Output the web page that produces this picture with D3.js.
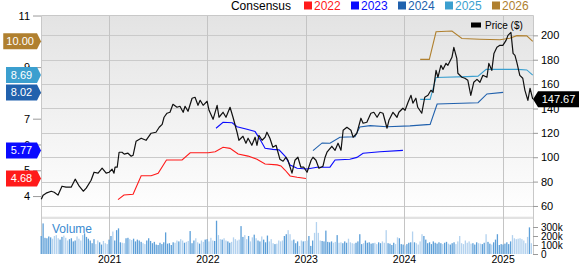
<!DOCTYPE html>
<html>
<head>
<meta charset="utf-8">
<script src="https://cdnjs.cloudflare.com/ajax/libs/d3/7.8.5/d3.min.js"></script>
<style>
	body { margin: 0; background: #fff; }
	svg { display: block; font-family: "Liberation Sans", Arial, sans-serif; }
</style>
</head>
<body>
<svg class="theSvg" width="579" height="264"></svg>
<script>
// ---- data ----
var price = [["2020-04-24",65.6],["2020-05-01",68.9],["2020-05-12",70.5],["2020-05-31",72.1],["2020-06-11",71.3],["2020-06-25",68.9],["2020-07-10",76.2],["2020-07-25",75.4],["2020-08-13",75.4],["2020-08-28",82.0],["2020-09-12",76.2],["2020-09-27",72.1],["2020-10-08",74.6],["2020-10-26",81.1],["2020-11-06",87.7],["2020-11-21",86.9],["2020-12-06",91.0],["2020-12-21",86.9],["2021-01-01",87.7],["2021-01-12",90.2],["2021-01-19",86.9],["2021-01-23",91.8],["2021-01-31",91.8],["2021-02-07",104.1],["2021-02-18",104.1],["2021-02-26",102.5],["2021-03-12",103.3],["2021-03-24",100.8],["2021-03-31",101.6],["2021-04-11",113.1],["2021-04-30",115.6],["2021-05-18",113.9],["2021-06-06",119.7],["2021-06-24",120.5],["2021-07-06",124.6],["2021-07-17",127.0],["2021-07-24",132.8],["2021-08-04",136.1],["2021-08-15",136.9],["2021-08-26",143.4],["2021-09-10",141.0],["2021-09-21",141.8],["2021-10-03",136.9],["2021-10-10",141.8],["2021-10-21",137.7],["2021-11-05",148.4],["2021-11-16",149.2],["2021-11-27",142.6],["2021-12-05",146.7],["2021-12-16",142.6],["2021-12-31",145.9],["2022-01-07",138.5],["2022-01-22",131.1],["2022-02-06",142.6],["2022-02-13",132.8],["2022-02-28",136.9],["2022-03-11",132.8],["2022-03-26",141.0],["2022-04-06",132.8],["2022-04-21",120.5],["2022-04-28",113.9],["2022-05-13",117.2],["2022-05-24",111.5],["2022-06-01",115.6],["2022-06-15",109.8],["2022-06-27",116.4],["2022-07-04",109.8],["2022-07-11",118.0],["2022-07-23",113.9],["2022-08-03",116.4],["2022-08-10",120.5],["2022-08-21",115.6],["2022-09-01",108.2],["2022-09-13",109.8],["2022-09-20",104.1],["2022-09-27",98.4],["2022-10-09",96.7],["2022-10-20",100.0],["2022-10-27",97.5],["2022-11-11",86.9],["2022-11-22",97.5],["2022-12-03",100.0],["2022-12-14",91.8],["2022-12-25",91.8],["2023-01-06",87.7],["2023-01-21",97.5],["2023-01-28",100.0],["2023-02-08",97.5],["2023-02-19",91.0],["2023-03-06",92.6],["2023-03-14",100.0],["2023-03-21",104.1],["2023-04-08",109.0],["2023-04-20",105.7],["2023-05-01",111.5],["2023-05-12",105.7],["2023-05-20",122.1],["2023-06-03",124.6],["2023-06-18",122.1],["2023-06-26",116.4],["2023-07-10",119.7],["2023-07-25",132.0],["2023-08-02",127.9],["2023-08-16",128.7],["2023-08-31",136.1],["2023-09-11",136.9],["2023-09-23",132.8],["2023-10-04",136.9],["2023-10-15",136.1],["2023-10-30",123.8],["2023-11-06",130.3],["2023-11-21",136.9],["2023-12-06",132.8],["2023-12-13",136.9],["2023-12-28",140.2],["2024-01-05",138.5],["2024-01-16",145.1],["2024-01-27",150.8],["2024-02-03",144.3],["2024-02-14",148.4],["2024-02-21",141.0],["2024-03-07",136.1],["2024-03-18",149.2],["2024-03-30",150.8],["2024-04-10",154.9],["2024-04-18",153.3],["2024-04-29",171.3],["2024-05-06",165.6],["2024-05-17",175.4],["2024-05-25",172.1],["2024-06-05",177.0],["2024-06-12",175.4],["2024-06-27",182.0],["2024-07-04",190.2],["2024-07-15",181.1],["2024-07-19",168.9],["2024-08-03",165.6],["2024-08-14",164.8],["2024-08-25",163.1],["2024-09-05",150.8],["2024-09-16",161.5],["2024-09-28",163.9],["2024-10-09",161.5],["2024-10-20",167.2],["2024-11-04",165.6],["2024-11-11",177.0],["2024-11-22",171.3],["2024-11-30",185.2],["2024-12-11",190.2],["2024-12-22",191.8],["2025-01-02",191.8],["2025-01-14",195.9],["2025-01-21",200.0],["2025-02-01",202.5],["2025-02-09",185.2],["2025-02-16",183.6],["2025-02-23",177.9],["2025-03-06",167.2],["2025-03-17",164.8],["2025-03-25",154.9],["2025-04-05",146.7],["2025-04-13",156.6],["2025-04-23",147.67]];

var cons2022 = [["2021-02-03",3.86],["2021-02-25",4.04],["2021-03-31",4.07],["2021-04-30",4.79],["2021-06-06",4.79],["2021-07-02",4.88],["2021-08-02",5.40],["2021-09-29",5.40],["2021-10-29",5.68],["2022-01-04",5.68],["2022-01-30",5.72],["2022-02-28",5.89],["2022-03-26",5.85],["2022-04-25",5.63],["2022-06-01",5.55],["2022-07-04",5.43],["2022-08-03",5.24],["2022-09-17",5.21],["2022-10-01",5.17],["2022-10-16",5.01],["2022-11-04",4.78],["2022-11-30",4.73],["2023-01-02",4.68]];
var cons2023 = [["2022-02-02",6.63],["2022-02-28",6.86],["2022-04-03",6.84],["2022-04-21",6.69],["2022-05-28",6.59],["2022-06-27",6.50],["2022-07-15",6.20],["2022-08-03",5.85],["2022-09-01",5.81],["2022-09-24",5.79],["2022-10-16",5.55],["2022-11-04",5.20],["2022-11-30",5.08],["2023-01-06",5.05],["2023-02-12",5.12],["2023-04-01",5.12],["2023-04-20",5.40],["2023-06-14",5.43],["2023-07-10",5.50],["2023-08-02",5.66],["2023-10-04",5.72],["2023-12-28",5.77]];
var cons2024 = [["2023-01-28",5.76],["2023-03-03",6.06],["2023-04-01",6.05],["2023-05-08",6.28],["2023-07-03",6.30],["2023-07-21",6.68],["2023-08-28",6.73],["2023-10-30",6.69],["2024-01-23",6.72],["2024-04-07",6.78],["2024-05-03",7.57],["2024-10-02",7.62],["2024-11-04",7.96],["2025-01-03",8.02]];
var cons2025 = [["2024-03-01",7.75],["2024-04-07",7.75],["2024-04-29",8.60],["2024-08-22",8.63],["2024-10-02",8.65],["2024-11-01",8.91],["2025-02-27",8.91],["2025-04-01",8.89],["2025-04-23",8.69]];
var cons2026 = [["2024-03-01",9.30],["2024-04-04",9.30],["2024-04-29",10.37],["2024-06-27",10.40],["2024-08-03",10.11],["2024-10-09",10.08],["2024-12-22",10.06],["2025-01-28",10.12],["2025-02-23",10.22],["2025-04-01",10.21],["2025-04-23",10.00]];

var consYears = ["2022", "2023", "2024", "2025", "2026"];
var consColors = ["#ff1a1a", "#0a0aff", "#2161ad", "#3b9fcf", "#b0802f"];

// weekly volume in thousands, first week ending 2020-04-24
var volumeStart = "2020-04-24";
var volume = [200,340,180,175,195,185,170,200,210,175,160,190,205,180,150,165,175,140,150,195,170,150,210,230,190,170,150,120,165,110,150,130,105,145,120,110,
	160,200,250,150,265,285,130,125,120,175,180,165,155,170,140,160,150,135,120,110,150,175,145,120,135,105,100,125,110,130,240,115,120,100,130,125,150,140,165,150,125,135,145,255,120,150,175,130,115,150,135,160,
	165,140,180,150,145,370,210,165,160,175,150,140,125,135,185,165,150,160,310,190,210,165,200,140,185,215,175,150,140,195,160,130,205,140,165,120,110,115,150,140,150,200,220,265,220,150,160,120,140,90,150,140,
	145,150,200,90,150,235,355,235,150,145,140,260,135,130,140,125,135,210,125,130,120,140,125,170,130,120,115,125,140,220,110,120,150,125,130,115,120,125,110,130,120,140,125,265,120,115,100,125,110,185,175,110,
	105,95,110,125,130,250,130,120,105,140,220,200,160,120,130,110,140,125,115,130,120,110,125,135,115,105,120,130,110,140,200,120,110,150,125,140,115,120,105,130,120,115,110,125,220,135,115,105,130,160,220,100,110,
	105,115,130,110,140,210,175,165,170,175,165,150,120,190,296,120];

var epsTicks = [4, 5, 6, 7, 8, 9, 10, 11];
var priceTicks = [60, 80, 100, 120, 140, 160, 180, 200];
var volTicks = [0, 100, 200, 300];

// ---- layout ----
var parseDate = d3.timeParse("%Y-%m-%d");
var L = 41, R = 533, T = 15, B = 216.7, VT = 219, VB = 254;

var svg = d3.select(".theSvg");

var x = d3.scaleTime().domain([parseDate("2020-04-23"), parseDate("2025-04-24")]).range([L, R]);
var yPrice = d3.scaleLinear().domain([51.2, 216.7]).range([B, T]);
var yEps = d3.scaleLinear().domain([3.2, 11.02]).range([B, T]);
var yVol = d3.scaleLinear().domain([0, 389]).range([VB, VT]);

var grad = svg.append("defs").append("linearGradient")
	.attr("id", "bgGrad")
	.attr("x1", 0).attr("y1", 0).attr("x2", 0).attr("y2", 1);
grad.append("stop").attr("offset", "0%").attr("stop-color", "#e3e3e3");
grad.append("stop").attr("offset", "100%").attr("stop-color", "#ffffff");

svg.append("rect")
	.attr("x", L).attr("y", T)
	.attr("width", R - L).attr("height", B - T)
	.attr("fill", "url(#bgGrad)");

// band between price and volume panes
svg.append("rect")
	.attr("x", L).attr("y", B)
	.attr("width", R - L).attr("height", VT - B)
	.attr("fill", "#e2e2e2");

var years = x.ticks(d3.timeYear.every(1));

// gridlines
svg.append("g").selectAll("line")
	.data(priceTicks)
	.enter().append("line")
	.attr("x1", L).attr("x2", R)
	.attr("y1", function(d){ return Math.round(yPrice(d)) + 0.5; })
	.attr("y2", function(d){ return Math.round(yPrice(d)) + 0.5; })
	.attr("stroke", "#cacaca");

svg.append("g").selectAll("line")
	.data(years)
	.enter().append("line")
	.attr("x1", function(d){ return Math.round(x(d)) + 0.5; })
	.attr("x2", function(d){ return Math.round(x(d)) + 0.5; })
	.attr("y1", T).attr("y2", VB)
	.attr("stroke", "#c4c4c4");

// frame
svg.append("path")
	.attr("d", "M" + (L + 0.5) + "," + VB + "V" + (T + 0.5) + "H" + (R + 0.5) + "V" + VB)
	.attr("fill", "none")
	.attr("stroke", "#c8c8c8");

// ---- volume ----
var priceSeries = price.map(function(d){ return {date: parseDate(d[0]), value: d[1]}; });
var bisect = d3.bisector(function(d){ return d.date; }).left;
function priceAt(date){
	var i = bisect(priceSeries, date);
	if (i <= 0) return priceSeries[0].value;
	if (i >= priceSeries.length) return priceSeries[priceSeries.length - 1].value;
	var a = priceSeries[i - 1], b = priceSeries[i];
	var t = (date - a.date) / (b.date - a.date);
	return a.value + t * (b.value - a.value);
}

var volStart = parseDate(volumeStart);
var volData = volume.map(function(v, i){
	var date = d3.timeWeek.offset(volStart, i);
	var up = priceAt(date) >= priceAt(d3.timeWeek.offset(date, -1));
	return {date: date, value: v, up: up};
});

svg.append("g").selectAll("rect")
	.data(volData)
	.enter().append("rect")
	.attr("x", function(d){ return x(d.date) - 0.7; })
	.attr("width", 1.3)
	.attr("y", function(d){ return yVol(d.value); })
	.attr("height", function(d){ return yVol(0) - yVol(d.value); })
	.attr("fill", function(d){ return d.up ? "#5d9fd8" : "#b3d2ef"; });

svg.append("text")
	.attr("x", 52).attr("y", 233)
	.attr("font-size", "12px")
	.attr("fill", "#3a8ad0")
	.text("Volume");

// ---- consensus lines ----
var epsLine = d3.line()
	.x(function(d){ return x(parseDate(d[0])); })
	.y(function(d){ return yEps(d[1]); });

var consData = [cons2022, cons2023, cons2024, cons2025, cons2026];

svg.append("g").selectAll("path")
	.data(consData)
	.enter().append("path")
	.attr("d", epsLine)
	.attr("fill", "none")
	.attr("stroke-width", 1.1)
	.attr("stroke", function(d, i){ return consColors[i]; });

// ---- price line ----
var priceLine = d3.line()
	.x(function(d){ return x(d.date); })
	.y(function(d){ return yPrice(d.value); });

svg.append("path")
	.datum(priceSeries)
	.attr("d", priceLine)
	.attr("fill", "none")
	.attr("stroke", "#111")
	.attr("stroke-width", 1.2)
	.attr("stroke-linejoin", "round");

// ---- axes ----
function styleAxis(g, size){
	g.select(".domain").remove();
	g.selectAll(".tick line").attr("stroke", "#9a9a9a");
	g.selectAll(".tick text").attr("fill", "#000").attr("font-size", size).attr("font-family", null);
}

svg.append("g")
	.attr("transform", "translate(" + L + ",0)")
	.call(d3.axisLeft(yEps).tickValues(epsTicks).tickSize(8).tickPadding(3))
	.call(styleAxis, "11px");

svg.append("g")
	.attr("transform", "translate(" + R + ",0)")
	.call(d3.axisRight(yPrice).tickValues(priceTicks).tickSize(5).tickPadding(3))
	.call(styleAxis, "11px");

svg.append("g")
	.attr("transform", "translate(" + R + ",0)")
	.call(d3.axisRight(yVol).tickValues(volTicks).tickSize(5).tickPadding(3)
		.tickFormat(function(d){ return d == 0 ? "0" : d + "k"; }))
	.call(styleAxis, "10px");

svg.append("g")
	.attr("transform", "translate(0," + VB + ")")
	.call(d3.axisBottom(x).tickValues(years).tickSize(0).tickPadding(2).tickFormat(d3.timeFormat("%Y")))
	.call(styleAxis, "10.5px");

// ---- badges ----
var leftBadges = svg.append("g");
consData.forEach(function(series, i){
	var last = series[series.length - 1][1];
	var cy = yEps(last);
	var g = leftBadges.append("g");
	var poly = g.append("path").attr("fill", consColors[i]);
	var t = g.append("text")
		.attr("x", 21.5).attr("y", cy)
		.attr("dy", "0.36em")
		.attr("text-anchor", "middle")
		.attr("font-size", "11px")
		.attr("fill", "#fff")
		.text(last.toFixed(2));
	var w = t.node().getComputedTextLength();
	var x0 = Math.min(6, 21.5 - w / 2 - 4.5);
	t.attr("x", (x0 + 37) / 2);
	poly.attr("d", "M" + x0 + "," + (cy - 8) + "H37L41," + cy + "L37," + (cy + 8) + "H" + x0 + "Z");
});

var lastPrice = priceSeries[priceSeries.length - 1].value;
var py = yPrice(lastPrice);
svg.append("path")
	.attr("d", "M" + R + "," + py + "L538," + (py - 8) + "H579V" + (py + 8) + "H538Z")
	.attr("fill", "#000");
svg.append("text")
	.attr("x", 558.5).attr("y", py)
	.attr("dy", "0.36em")
	.attr("text-anchor", "middle")
	.attr("font-size", "11px")
	.attr("fill", "#fff")
	.text(lastPrice.toFixed(2));

// ---- legends ----
svg.append("text")
	.attr("x", 291).attr("y", 10)
	.attr("text-anchor", "end")
	.attr("font-size", "12px")
	.attr("fill", "#000")
	.text("Consensus");

var legend = svg.append("g").selectAll("g")
	.data(consYears)
	.enter().append("g")
	.attr("transform", function(d, i){ return "translate(" + (304 + i * 47) + ",0)"; });

legend.append("rect")
	.attr("x", 0).attr("y", 1.5)
	.attr("width", 8).attr("height", 8)
	.attr("fill", function(d, i){ return consColors[i]; });

legend.append("text")
	.attr("x", 10).attr("y", 10)
	.attr("font-size", "12px")
	.attr("fill", function(d, i){ return consColors[i]; })
	.text(function(d){ return d; });

svg.append("rect")
	.attr("x", 471).attr("y", 22.5)
	.attr("width", 10).attr("height", 5)
	.attr("fill", "#000");
svg.append("text")
	.attr("x", 485).attr("y", 29)
	.attr("font-size", "10px")
	.attr("fill", "#000")
	.text("Price ($)");
</script>
</body>
</html>
